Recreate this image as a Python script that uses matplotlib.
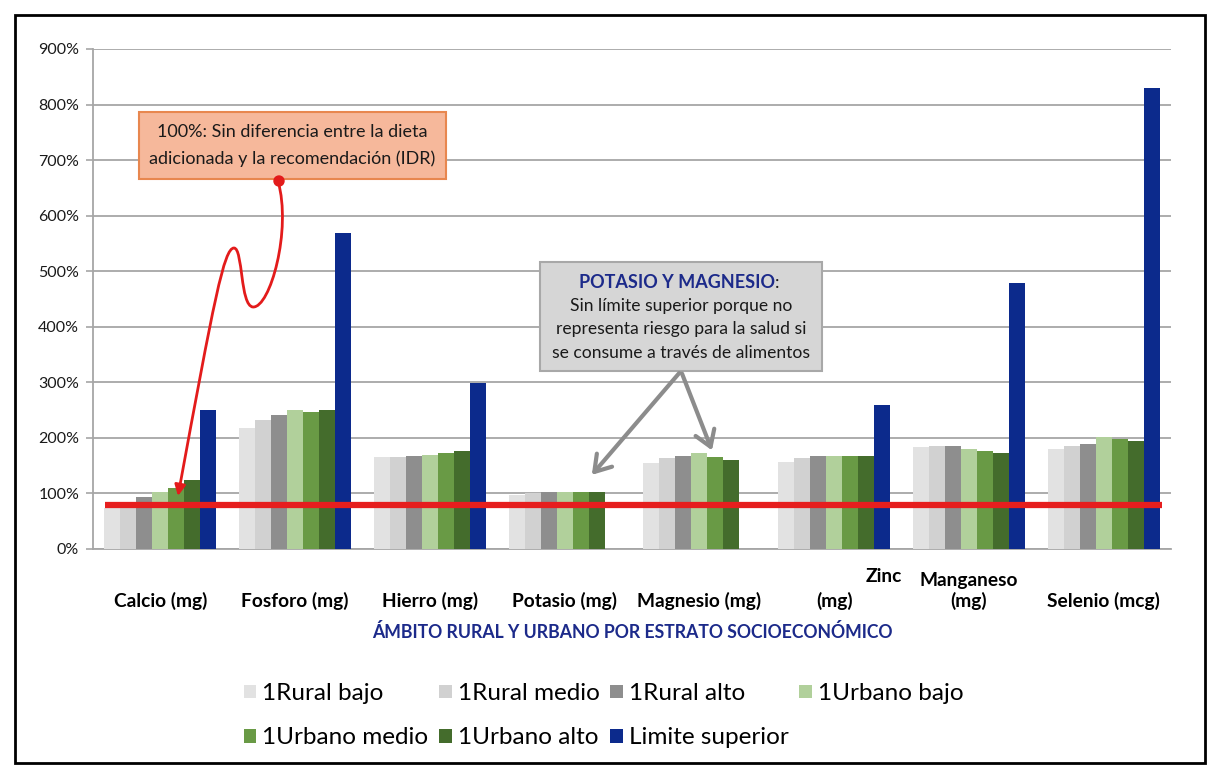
import matplotlib
matplotlib.use("Agg")
import matplotlib.pyplot as plt
import matplotlib.patches as mpatches
import matplotlib.transforms as mtransforms
from matplotlib.path import Path
import numpy as np

plt.rcParams['font.family'] = ['Lato', 'DejaVu Sans']

# ---------------- data ----------------
categories = ['Calcio (mg)', 'Fosforo (mg)', 'Hierro (mg)', 'Potasio (mg)',
              'Magnesio (mg)', 'Zinc (mg)', 'Manganeso (mg)', 'Selenio (mcg)']
xtick_labels = ['Calcio (mg)', 'Fosforo (mg)', 'Hierro (mg)', 'Potasio (mg)',
                'Magnesio (mg)', '(mg)', 'Manganeso\n(mg)', 'Selenio (mcg)']
series_names = ['1Rural bajo', '1Rural medio', '1Rural alto', '1Urbano bajo',
                '1Urbano medio', '1Urbano alto', 'Limite superior']
rural_bajo = [74, 218, 165, 97, 155, 157, 184, 180]
rural_medio = [74, 232, 166, 100, 164, 164, 185, 185]
rural_alto = [94, 241, 167, 103, 167, 167, 185, 189]
urbano_bajo = [103, 250, 170, 102, 172, 167, 180, 201]
urbano_medio = [110, 246, 173, 102, 166, 167, 176, 198]
urbano_alto = [124, 250, 176, 102, 161, 167, 173, 195]
limite_superior = [250, 569, 299, np.nan, np.nan, 259, 478, 829]
reference_line = 80
yticks = [0, 100, 200, 300, 400, 500, 600, 700, 800, 900]

series_values = [rural_bajo, rural_medio, rural_alto, urbano_bajo,
                 urbano_medio, urbano_alto, limite_superior]
colors = ['#E2E2E2', '#D1D1D1', '#8E8E8E', '#B1D09B', '#699A45', '#446C2C', '#0C2A8C']

W, H = 1221, 779
fig = plt.figure(figsize=(W / 100, H / 100), dpi=100)
ax = fig.add_axes([93 / W, 1 - 549 / H, (1171 - 93) / W, (549 - 49) / H])

x = np.arange(len(categories))
bw = 0.119
bars = []
for i, (vals, col, name) in enumerate(zip(series_values, colors, series_names)):
    bars.append(ax.bar(x + (i - 3) * bw, vals, width=bw, color=col, label=name, zorder=3))

ax.hlines(reference_line, -0.41, 7.43, color='#E61E1E', lw=4.5, zorder=5)

ax.set_xlim(-0.5, 7.5)
ax.set_ylim(0, 900)
ax.set_yticks(yticks)
ax.set_yticklabels([f'{v}%' for v in yticks], fontsize=11.5, color='#1a1a1a')
ax.yaxis.grid(True, color='#A6A6A6', lw=1.3, zorder=0)
ax.set_axisbelow(True)
ax.tick_params(axis='y', length=5, width=1.2, color='#A6A6A6', pad=5)
ax.set_xticks(x)
ax.set_xticklabels(xtick_labels, fontsize=13.8, fontweight='bold', va='bottom')
ax.tick_params(axis='x', length=0, pad=44)
for s in ['top', 'right']:
    ax.spines[s].set_visible(False)
for s in ['left', 'bottom']:
    ax.spines[s].set_color('#A6A6A6')
    ax.spines[s].set_linewidth(1.3)

# pixel -> figure transform
pix = mtransforms.Affine2D().scale(1 / W, -1 / H).translate(0, 1) + fig.transFigure

fig.text(884, 577, 'Zinc', transform=pix, fontsize=13.8, fontweight='bold',
         ha='center', va='center')
fig.text(632, 632, 'ÁMBITO RURAL Y URBANO POR ESTRATO SOCIOECONÓMICO', transform=pix,
         fontsize=12.7, fontweight='bold', color='#1C2A8A', ha='center', va='center')

# orange annotation box
fig.patches.append(mpatches.Rectangle((139, 112), 307, 67, transform=pix,
                                      facecolor='#F6B89B', edgecolor='#E8874F', lw=1.5,
                                      zorder=6))
fig.text(292, 132, '100%: Sin diferencia entre la dieta', transform=pix, fontsize=13,
         ha='center', va='center', zorder=7, color='#1a1a1a')
fig.text(292, 159, 'adicionada y la recomendación (IDR)', transform=pix, fontsize=13,
         ha='center', va='center', zorder=7, color='#1a1a1a')

# red curvy arrow
verts = [(278, 181), (292, 230), (270, 308), (253, 307),
         (240, 306), (243, 248), (234, 248),
         (224, 248), (214, 300), (178, 496)]
codes = [Path.MOVETO] + [Path.CURVE4] * 9
red_path = Path(verts, codes)
arr = mpatches.FancyArrowPatch(path=red_path, arrowstyle='-|>', mutation_scale=16,
                               color='#E31B1B', lw=2, transform=pix, zorder=8)
fig.patches.append(arr)
fig.patches.append(mpatches.Ellipse((279, 181), 10, 10, transform=pix,
                                    color='#E31B1B', zorder=9))

# gray annotation box
fig.patches.append(mpatches.Rectangle((540, 262), 282, 109, transform=pix,
                                      facecolor='#D6D6D6', edgecolor='#A8A8A8', lw=1.5,
                                      zorder=6))
t = fig.text(677, 283, 'POTASIO Y MAGNESIO', transform=pix, fontsize=13,
             fontweight='bold', color='#1C2A8A', ha='center', va='center', zorder=7)
fig.canvas.draw()
bb = t.get_window_extent()
fig.text(bb.x1 / W, (bb.y0 + bb.y1) / 2 / H, ':', fontsize=13, color='#1a1a1a',
         ha='left', va='center', zorder=7)
body = ['Sin límite superior porque no', 'representa riesgo para la salud si',
        'se consume a través de alimentos']
for k, line in enumerate(body):
    fig.text(681, 306 + 23.5 * k, line, transform=pix, fontsize=12.6, ha='center',
             va='center', zorder=7, color='#1a1a1a')

for tip in [(590, 477), (713, 453)]:
    fig.patches.append(mpatches.FancyArrowPatch((681, 371), tip, transform=pix,
                                                arrowstyle='->,head_length=0.7,head_width=0.45',
                                                mutation_scale=16, color='#8C8C8C', lw=3,
                                                zorder=8))

# legend (row-wise order)
order = [0, 4, 1, 5, 2, 6, 3]
fig.legend([bars[i] for i in order], [series_names[i] for i in order], ncol=4,
           loc='upper left', bbox_to_anchor=(232 / W, 1 - 671 / H),
           frameon=False, fontsize=17.5, handlelength=0.5, handleheight=0.5,
           handletextpad=0.25, columnspacing=0.45, labelspacing=0.95, borderpad=0)

# outer frame
fig.patches.append(mpatches.Rectangle((15, 15), 1190, 748, transform=pix, fill=False,
                                      edgecolor='black', lw=2, zorder=10))

fig.savefig('out.png', dpi=100)
